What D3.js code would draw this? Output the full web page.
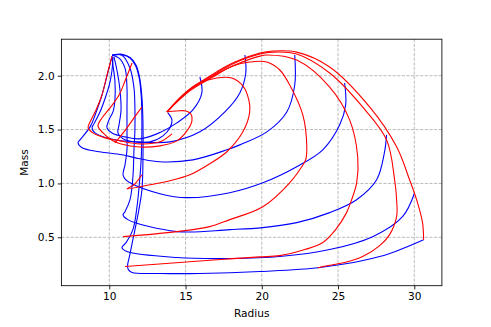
<!DOCTYPE html>
<html>
<head>
<meta charset="utf-8">
<script src="https://cdn.jsdelivr.net/npm/d3@7"></script>
<style>
  html, body { margin: 0; padding: 0; background: #ffffff; }
  svg { display: block; font-family: "DejaVu Sans", sans-serif; }
</style>
</head>
<body>
<svg id="chart" width="491" height="327"></svg>
<script>
// ---------------- data (Radius, Mass) ----------------
const xTicks = [10, 15, 20, 25, 30];
const yTicks = [0.5, 1.0, 1.5, 2.0];
const xLabel = "Radius";
const yLabel = "Mass";
const xDomain = [6.86, 31.81];
const yDomain = [0.0506, 2.339];

// blue curves
const blueT0 = [[10.31,2.173],[10.50,2.053],[10.70,1.868],[10.77,1.682],[10.64,1.544],[10.57,1.469],[11.03,1.405],[12.67,1.386],[13.52,1.442],[13.98,1.516],[14.11,1.590],[13.84,1.655]];
const blueT1 = [[10.18,2.18],[10.24,2.099],[10.37,1.951],[10.37,1.775],[10.24,1.664],[9.98,1.590],[9.85,1.516],[10.18,1.469],[11.03,1.432],[11.95,1.414],[13.12,1.460],[14.43,1.562],[15.48,1.682],[16.07,1.840],[15.94,1.988]];
const blueT2 = [[10.24,2.173],[10.18,2.053],[10.05,1.942],[9.78,1.812],[9.39,1.664],[8.99,1.553],[8.87,1.516],[9.06,1.469],[10.37,1.405],[11.95,1.386],[13.98,1.386],[15.94,1.479],[17.58,1.664],[18.56,1.840],[18.95,2.025],[18.89,2.192]];
const blueT3 = [[10.18,2.18],[9.98,2.071],[9.78,1.960],[9.52,1.821],[9.19,1.682],[8.74,1.525],[8.08,1.405],[7.95,1.377],[8.21,1.331],[9.33,1.294],[10.83,1.266],[12.01,1.229],[13.32,1.201],[15.48,1.219],[17.71,1.312],[18.56,1.358],[20.33,1.479],[21.64,1.664],[22.16,1.914],[22.16,2.192]];
const blueT4 = [[10.18,2.19],[10.64,2.164],[11.03,2.071],[11.16,1.886],[11.16,1.70],[11.16,1.497],[11.16,1.312],[11.03,1.173],[10.90,1.081],[11.03,1.043],[11.36,1.006],[13.32,0.905],[15.09,0.868],[17.90,0.914],[20.07,1.006],[22.29,1.155],[24.0,1.312],[25.11,1.544],[25.50,1.729],[25.43,1.932]];
const blueT5 = [[10.18,2.19],[10.83,2.19],[11.36,2.07],[11.62,1.886],[11.68,1.70],[11.68,1.497],[11.62,1.312],[11.55,1.062],[11.36,0.849],[11.03,0.738],[10.90,0.71],[11.22,0.664],[14.43,0.553],[17.90,0.571],[20.07,0.590],[22.29,0.636],[24.45,0.729],[26.22,0.849],[27.53,1.034],[28.05,1.294],[28.18,1.451]];
const blueT6 = [[10.18,2.19],[10.83,2.195],[11.36,2.165],[11.72,2.095],[11.95,1.99],[12.10,1.80],[12.14,1.55],[12.10,1.25],[12.01,1.06],[11.81,0.775],[11.55,0.571],[11.10,0.45],[10.83,0.405],[11.16,0.367],[14.43,0.312],[17.90,0.303],[21.18,0.321],[24.45,0.386],[27.27,0.506],[29.23,0.692],[30.02,0.914]];
const blueT7 = [[10.18,2.19],[10.83,2.20],[11.36,2.17],[11.75,2.10],[11.98,1.99],[12.14,1.80],[12.21,1.55],[12.21,1.25],[12.14,0.94],[11.88,0.71],[11.55,0.48],[11.32,0.32],[11.20,0.24],[11.25,0.20],[11.49,0.173],[13.32,0.164],[15.94,0.164],[19.87,0.182],[23.80,0.219],[27.73,0.321],[30.61,0.478]];

// red curves
const redL1 = [[10.18,2.18],[9.85,2.006],[9.52,1.821],[9.13,1.682],[8.74,1.571],[8.61,1.516],[8.93,1.469],[9.72,1.423],[10.70,1.395],[12.01,1.367],[13.32,1.386],[14.11,1.460]];
const redL2 = [[11.49,2.118],[11.03,1.951],[10.64,1.821],[10.05,1.701],[9.52,1.608],[9.26,1.534],[9.59,1.469],[10.37,1.386],[11.81,1.340],[13.32,1.349],[14.43,1.395],[15.09,1.488],[15.42,1.581],[15.35,1.645],[15.02,1.673],[14.43,1.673],[13.78,1.664]];
const redL3 = [[12.14,1.710],[11.62,1.608],[11.16,1.516],[10.70,1.432],[10.37,1.377]];
const redM = [[13.78,1.664],[14.83,1.821],[15.94,1.932],[17.05,1.979],[18.03,1.979],[18.76,1.905],[19.15,1.775],[19.21,1.664],[18.76,1.479],[17.71,1.294],[16.59,1.183],[15.28,1.08],[13.98,1.025],[12.67,0.988],[11.16,0.951],[11.62,0.988],[12.14,1.081]];
const redA = [[13.78,1.664],[15.28,1.859],[16.79,1.988],[18.10,2.090],[19.21,2.127],[20.33,2.127],[21.18,2.053],[21.83,1.914],[22.69,1.636],[22.95,1.340],[22.88,1.22],[22.62,1.155],[21.83,1.006],[20.07,0.784],[17.90,0.664],[16.59,0.599],[14.43,0.553],[10.90,0.506]];
const redB = [[13.78,1.664],[15.28,1.868],[16.79,1.997],[18.23,2.099],[19.87,2.182],[20.33,2.192],[22.29,2.145],[24.45,1.895],[25.76,1.590],[26.29,1.247],[26.22,1.006],[25.89,0.849],[25.56,0.729],[24.84,0.571],[24.0,0.451],[22.82,0.386],[21.18,0.330],[19.87,0.318],[17.90,0.300],[15.48,0.275],[11.03,0.229]];
const redC = [[13.78,1.664],[15.28,1.877],[16.79,2.006],[18.23,2.118],[19.87,2.201],[20.72,2.219],[22.29,2.201],[24.45,2.025],[26.61,1.710],[28.18,1.405],[28.71,1.034],[28.84,0.849],[28.84,0.692],[28.38,0.525],[27.73,0.423],[26.61,0.321],[25.43,0.266],[24.0,0.229],[23.67,0.215]];
const redD = [[13.78,1.664],[15.28,1.868],[16.79,2.015],[18.23,2.127],[19.87,2.210],[20.72,2.229],[22.29,2.219],[24.45,2.081],[27.07,1.710],[28.84,1.340],[29.69,1.034],[30.15,0.849],[30.54,0.636],[30.61,0.478]];

const blueCurves = [blueT0, blueT1, blueT2, blueT3, blueT4, blueT5, blueT6, blueT7];
const redCurves = [redL1, redL2, redL3, redM, redA, redB, redC, redD];

// ---------------- layout ----------------
const plot = { left: 61.4, right: 441.9, top: 39.2, bottom: 285.7 };

const svg = d3.select("#chart");
const x = d3.scaleLinear().domain(xDomain).range([plot.left, plot.right]);
const y = d3.scaleLinear().domain(yDomain).range([plot.bottom, plot.top]);

// grid
const grid = svg.append("g");
grid.selectAll("line.gx").data(xTicks).enter().append("line")
  .attr("x1", d => x(d)).attr("x2", d => x(d))
  .attr("y1", plot.top).attr("y2", plot.bottom)
  .attr("stroke", "#b0b0b0").attr("stroke-width", 0.85).attr("stroke-dasharray", "3.2,1.4");
grid.selectAll("line.gy").data(yTicks).enter().append("line")
  .attr("y1", d => y(d)).attr("y2", d => y(d))
  .attr("x1", plot.left).attr("x2", plot.right)
  .attr("stroke", "#b0b0b0").attr("stroke-width", 0.85).attr("stroke-dasharray", "3.2,1.4");

// clip
svg.append("clipPath").attr("id", "clip").append("rect")
  .attr("x", plot.left).attr("y", plot.top)
  .attr("width", plot.right - plot.left).attr("height", plot.bottom - plot.top);

const line = d3.line().x(d => x(d[0])).y(d => y(d[1])).curve(d3.curveCatmullRom.alpha(0.5));

const curves = svg.append("g").attr("clip-path", "url(#clip)");
curves.selectAll("path.blue").data(blueCurves).enter().append("path")
  .attr("d", line).attr("fill", "none").attr("stroke", "#0000ff").attr("stroke-width", 1.1);
curves.selectAll("path.red").data(redCurves).enter().append("path")
  .attr("d", line).attr("fill", "none").attr("stroke", "#ff0000").attr("stroke-width", 1.1);

// axes
const xAxis = d3.axisBottom(x).tickValues(xTicks).tickFormat(d3.format("d")).tickSize(3.7).tickPadding(3);
const yAxis = d3.axisLeft(y).tickValues(yTicks).tickFormat(d3.format(".1f")).tickSize(3.7).tickPadding(3);
const gx = svg.append("g").attr("transform", `translate(0,${plot.bottom})`).call(xAxis);
const gy = svg.append("g").attr("transform", `translate(${plot.left},0)`).call(yAxis);
[gx, gy].forEach(g => {
  g.select(".domain").remove();
  g.selectAll(".tick line").attr("stroke", "#000").attr("stroke-width", 0.85);
  g.selectAll(".tick text").attr("fill", "#000").style("font-size", "10.6px").style("font-family", "DejaVu Sans, sans-serif");
});

// frame
svg.append("rect").attr("x", plot.left).attr("y", plot.top)
  .attr("width", plot.right - plot.left).attr("height", plot.bottom - plot.top)
  .attr("fill", "none").attr("stroke", "#000").attr("stroke-width", 0.85);

// labels
svg.append("text").attr("x", (plot.left + plot.right) / 2).attr("y", 317)
  .attr("text-anchor", "middle").style("font-size", "10.6px").attr("fill", "#000").text(xLabel);
svg.append("text").attr("transform", `translate(28,${(plot.top + plot.bottom) / 2}) rotate(-90)`)
  .attr("text-anchor", "middle").style("font-size", "10.6px").attr("fill", "#000").text(yLabel);
</script>
</body>
</html>
